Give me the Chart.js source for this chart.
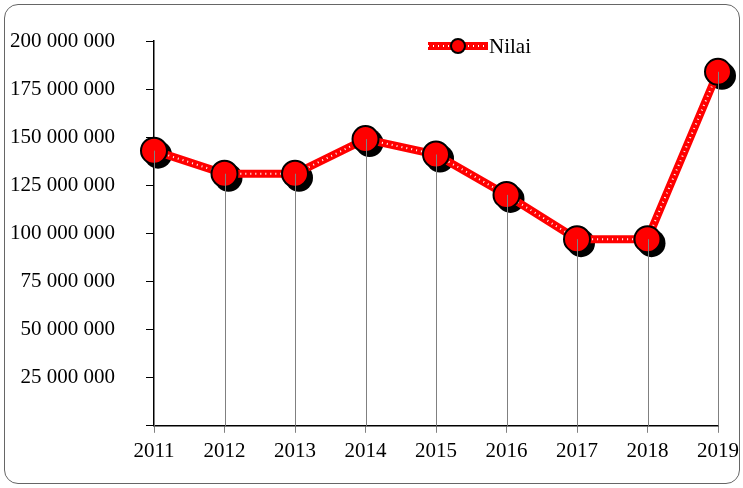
<!DOCTYPE html>
<html>
<head>
<meta charset="utf-8">
<script src="https://cdn.jsdelivr.net/npm/chart.js@4"></script>
<style>
  html, body { margin: 0; padding: 0; background: #fff; }
  #frame { position: absolute; left: 4px; top: 4px; width: 736px; height: 480px; border: 1px solid #666; border-radius: 14px; box-sizing: border-box; }
  #wrap { position: absolute; left: 0; top: 0; width: 743px; height: 488px; }
</style>
</head>
<body>
<div id="frame"></div>
<div id="wrap"><canvas id="nilaiChart"></canvas></div>
<script>
// chart data
const years = ['2011', '2012', '2013', '2014', '2015', '2016', '2017', '2018', '2019'];
const nilai = [143000000, 131000000, 131000000, 149000000, 141000000, 120000000, 97000000, 97000000, 184000000];
const yTicks = [0, 25000000, 50000000, 75000000, 100000000, 125000000, 150000000, 175000000, 200000000];
const seriesName = 'Nilai';

const serif = "'Liberation Serif', 'Times New Roman', serif";

function fmt(v) {
    if (v === 0) return '';
    return String(v).replace(/\B(?=(\d{3})+(?!\d))/g, ' ');
}

function drawSeriesLine(g, x1, y1, x2, y2) {
    g.save();
    g.strokeStyle = '#ff0000'; g.lineWidth = 8; g.lineCap = 'butt';
    g.beginPath(); g.moveTo(x1, y1); g.lineTo(x2, y2); g.stroke();
    g.strokeStyle = '#ffffff'; g.lineWidth = 2; g.setLineDash([1, 4]);
    g.beginPath(); g.moveTo(x1, y1); g.lineTo(x2, y2); g.stroke();
    g.restore();
}

// black shadows behind the markers, then gray drop lines on top
const markerExtras = {
    id: 'markerExtras',
    beforeDatasetsDraw(chart) {
        const g = chart.ctx;
        const pts = chart.getDatasetMeta(2).data;
        g.save();
        g.fillStyle = '#000';
        pts.forEach(p => {
            g.beginPath(); g.arc(p.x + 4, p.y + 4, 14, 0, Math.PI * 2); g.fill();
        });
        g.restore();
    },
    afterDatasetsDraw(chart) {
        const g = chart.ctx;
        const y = chart.scales.y;
        const pts = chart.getDatasetMeta(2).data;
        g.save();
        g.strokeStyle = '#808080'; g.lineWidth = 1;
        pts.forEach(p => {
            const px = Math.round(p.x) + 0.5;
            g.beginPath(); g.moveTo(px, p.y); g.lineTo(px, y.bottom); g.stroke();
        });
        g.restore();
    }
};

// legend drawn inside the plot area, like the original
const insideLegend = {
    id: 'insideLegend',
    afterDraw(chart) {
        const g = chart.ctx;
        const cx = 458, cy = 46;
        drawSeriesLine(g, cx - 30, cy, cx + 30, cy);
        g.save();
        g.fillStyle = '#ff0000'; g.strokeStyle = '#000'; g.lineWidth = 2;
        g.beginPath(); g.arc(cx, cy, 7, 0, Math.PI * 2); g.fill(); g.stroke();
        g.fillStyle = '#000'; g.font = '21px ' + serif;
        g.textBaseline = 'middle'; g.textAlign = 'left';
        g.fillText(seriesName, cx + 31, cy + 1);
        g.restore();
    }
};

const ctx = document.getElementById('nilaiChart');
new Chart(ctx, {
    type: 'line',
    data: {
        labels: years,
        datasets: [
            { label: seriesName, data: nilai, borderColor: '#ff0000', borderWidth: 8, pointRadius: 0, fill: false, tension: 0, order: 3 },
            { label: 'dots', data: nilai, borderColor: '#ffffff', borderWidth: 2, borderDash: [1, 4], pointRadius: 0, fill: false, tension: 0, order: 2 },
            { label: 'markers', data: nilai, showLine: false, pointRadius: 13, pointBackgroundColor: '#ff0000', pointBorderColor: '#000', pointBorderWidth: 2, order: 1 }
        ]
    },
    options: {
        responsive: true, maintainAspectRatio: false, animation: false,
        layout: { padding: { top: 41, right: 25, left: 6, bottom: 18 } },
        scales: {
            x: {
                offset: false,
                afterFit: (s) => { s.paddingRight = 0; },
                grid: { display: true, drawOnChartArea: false, drawTicks: true, tickLength: 7, color: '#808080' },
                border: { color: '#000', width: 1.5 },
                ticks: { color: '#000', font: { family: serif, size: 21 }, padding: 6, maxRotation: 0 }
            },
            y: {
                min: 0, max: 200000000,
                afterBuildTicks: (s) => { s.ticks = yTicks.map(v => ({ value: v })); },
                afterFit: (s) => { s.width = 148; s.paddingTop = 0; },
                grid: { display: true, drawOnChartArea: false, drawTicks: true, tickLength: 8, color: '#000' },
                border: { color: '#000', width: 1.5 },
                ticks: { color: '#000', font: { family: serif, size: 21 }, padding: 31, callback: fmt }
            }
        },
        plugins: {
            legend: { display: false },
            tooltip: { enabled: false }
        }
    },
    plugins: [markerExtras, insideLegend]
});
</script>
</body>
</html>
